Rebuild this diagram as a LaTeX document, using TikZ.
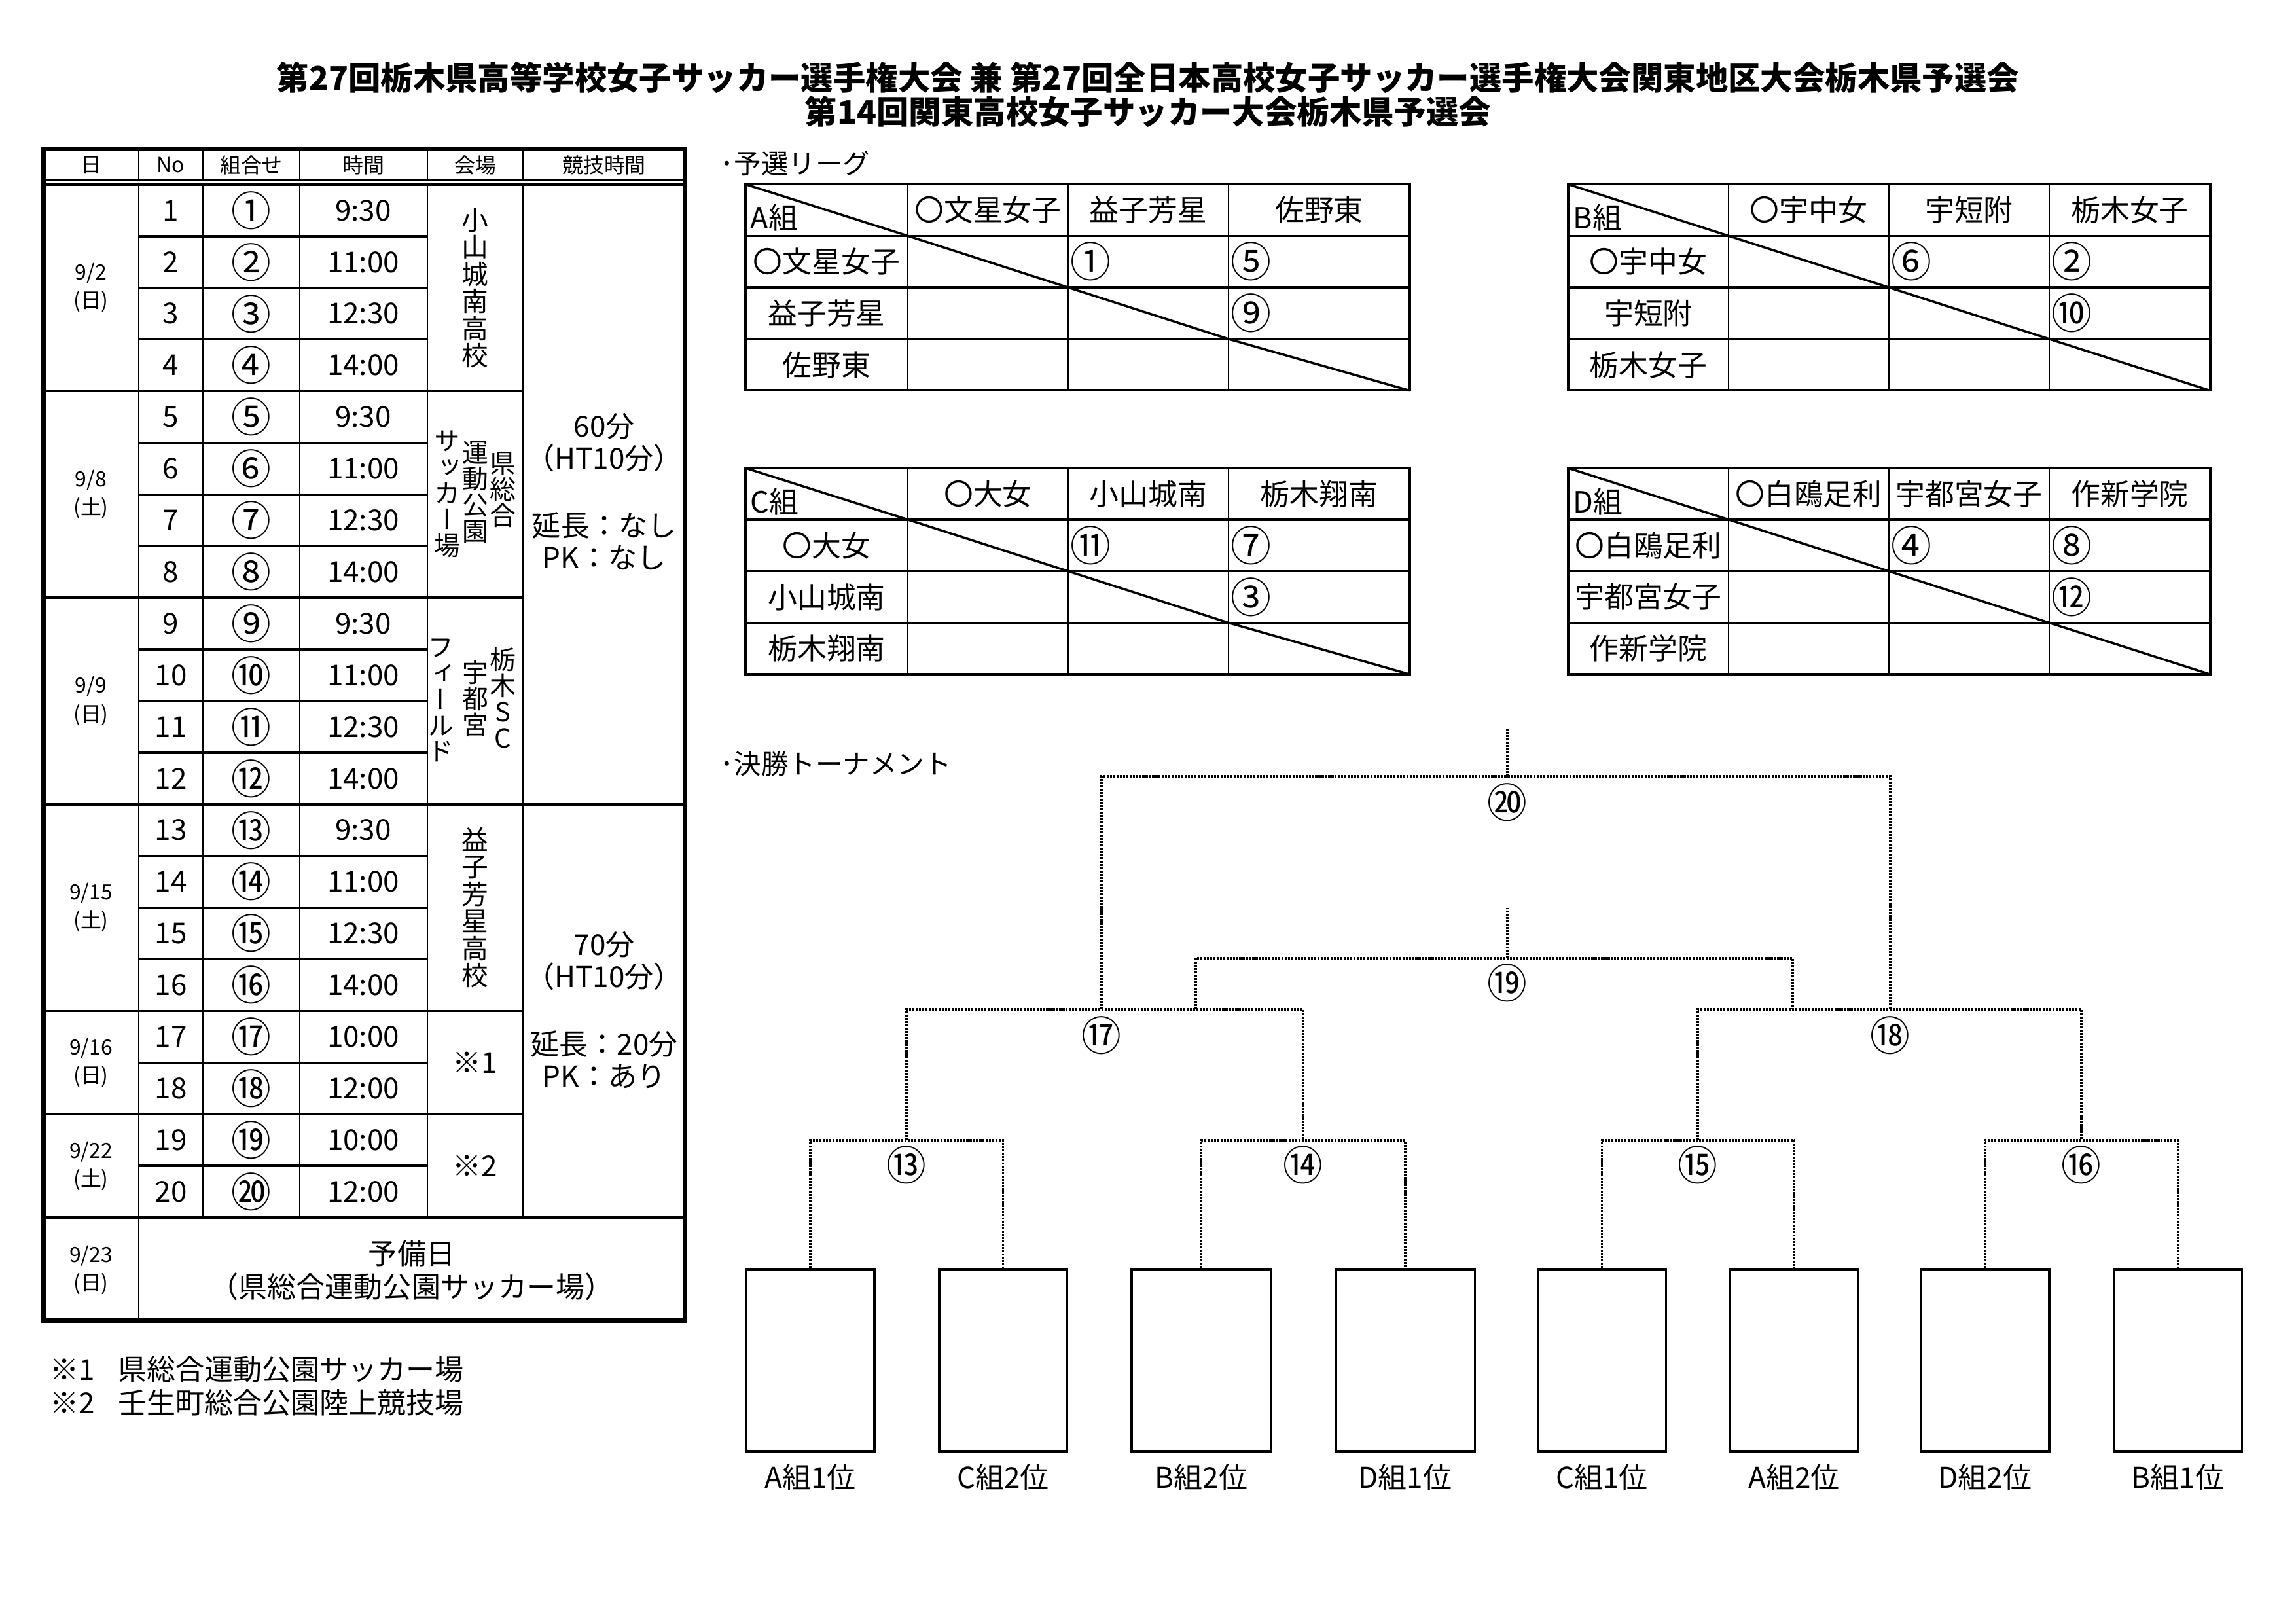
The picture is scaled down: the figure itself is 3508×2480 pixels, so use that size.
\documentclass[tikz,border=0pt]{standalone}
\usepackage{graphicx}
\usepackage{fontspec}
\setmainfont{Noto Sans CJK JP}
\newfontfamily\vjp{Noto Sans CJK JP}[RawFeature=+vert]
\newcommand{\cn}[1]{\scalebox{1.38}[1.42]{#1}}
\def\lgparse#1/#2/#3/#4/#5/#6\relax{\def\lgA{#1}\def\lgB{#2}\def\lgC{#3}\def\lgX{#4}\def\lgY{#5}\def\lgZ{#6}}
\newcommand{\lgtable}[9]{%
  \draw[hl] (#2,#7) rectangle (#6,{#7+4*78.8});
  \foreach \k in {1,2,3}{\draw[hl] (#2,{#7+\k*78.8}) -- (#6,{#7+\k*78.8});}
  \foreach \xx in {#3,#4,#5}{\draw[vl] (\xx,#7) -- (\xx,{#7+4*78.8});}
  \draw[hl] (#2,#7) -- (#3,{#7+78.8}) -- (#4,{#7+2*78.8}) -- (#5,{#7+3*78.8}) -- (#6,{#7+4*78.8});
  \lgparse#9\relax
  \node[lg, anchor=south west] (#1g) at ({#2+7},{#7+78.8-6}) {#8組};
  \node[lg] (#1h1) at ({(#3+#4)/2},{#7+39.4}) {\lgA};
  \node[lg] (#1h2) at ({(#4+#5)/2},{#7+39.4}) {\lgB};
  \node[lg] (#1h3) at ({(#5+#6)/2},{#7+39.4}) {\lgC};
  \node[lg] (#1r1) at ({(#2+#3)/2},{#7+1.5*78.8}) {\lgA};
  \node[lg] (#1r2) at ({(#2+#3)/2},{#7+2.5*78.8}) {\lgB};
  \node[lg] (#1r3) at ({(#2+#3)/2},{#7+3.5*78.8}) {\lgC};
  \node[lg, anchor=west] (#1c1) at ({#4+3},{#7+1.5*78.8}) {\cn{\lgX}};
  \node[lg, anchor=west] (#1c2) at ({#5+3},{#7+1.5*78.8}) {\cn{\lgY}};
  \node[lg, anchor=west] (#1c3) at ({#5+3},{#7+2.5*78.8}) {\cn{\lgZ}};
}
\begin{document}
\begin{tikzpicture}[x=0.24089pt,y=-0.24089pt,
  hl/.style={line width=0.84pt},
  vl/.style={line width=0.6pt},
  hd/.style={line width=0.6pt},
  ob/.style={line width=1.69pt},
  dl/.style={line width=0.8pt, dash pattern=on 0.75pt off 0.45pt, black},
  tx/.style={inner sep=0pt, font=\fontsize{10.6pt}{12.7pt}\selectfont},
  sm/.style={inner sep=0pt, align=center, font=\fontsize{7.7pt}{10.4pt}\selectfont},
  hdr/.style={inner sep=0pt, font=\fontsize{7.7pt}{9pt}\selectfont},
  lg/.style={inner sep=0pt, font=\fontsize{10.8pt}{13pt}\selectfont},
  vt/.style={inner sep=0pt, align=center, font=\vjp\fontsize{9.6pt}{9.6pt}\selectfont},
  vtone/.style={inner sep=0pt, align=center, font=\vjp\fontsize{9.8pt}{10pt}\selectfont},
  ttl/.style={inner sep=0pt, font=\bfseries\fontsize{11.9pt}{14pt}\selectfont},
  sec/.style={inner sep=0pt, anchor=west, font=\fontsize{10pt}{12pt}\selectfont},
  box/.style={draw, line width=0.96pt, inner sep=0pt, minimum height=67pt}]
\useasboundingbox (0,0) rectangle (3508,2480);

% ---------- title ----------
\node[ttl] (title1) at (1754,119) {第27回栃木県高等学校女子サッカー選手権大会 兼 第27回全日本高校女子サッカー選手権大会関東地区大会栃木県予選会};
\node[ttl] (title2) at (1754,171) {第14回関東高校女子サッカー大会栃木県予選会};

% ---------- schedule table ----------
\draw[ob] (66,227.4) rectangle (1046,2017);
\draw[hd] (69,275) -- (1043,275);
\draw[hl] (69,282) -- (1043,282);
\foreach \x in {310.4,457.8,653,799.5}{
  \draw[vl] (\x,227.4) -- (\x,275);
  \draw[vl] (\x,282) -- (\x,1860);
}
\draw[vl] (212,227.4) -- (212,275);
\draw[vl] (212,282) -- (212,2017);
\foreach \i in {1,2,3,5,6,7,9,10,11,13,14,15,17,19}{
  \draw[hl] (212,{282+78.9*\i}) -- (653,{282+78.9*\i});
}
\foreach \i in {4,8,16,18}{
  \draw[hl] (69,{282+78.9*\i}) -- (799.5,{282+78.9*\i});
}
\foreach \i in {12,20}{
  \draw[hl] (69,{282+78.9*\i}) -- (1043,{282+78.9*\i});
}

\node[hdr] (h1) at (139,252) {日};
\node[hdr] (h2) at (261,252) {No};
\node[hdr] (h3) at (384,252) {組合せ};
\node[hdr] (h4) at (555,252) {時間};
\node[hdr] (h5) at (726,252) {会場};
\node[hdr] (h6) at (923,252) {競技時間};

\foreach \i/\t/\c in {1/9:30/①,2/11:00/②,3/12:30/③,4/14:00/④,5/9:30/⑤,6/11:00/⑥,7/12:30/⑦,8/14:00/⑧,9/9:30/⑨,10/11:00/⑩,11/12:30/⑪,12/14:00/⑫,13/9:30/⑬,14/11:00/⑭,15/12:30/⑮,16/14:00/⑯,17/10:00/⑰,18/12:00/⑱,19/10:00/⑲,20/12:00/⑳}{
  \node[tx] (no\i) at (261,{282+78.9*(\i-0.5)}) {\i};
  \node[tx] (cb\i) at (384,{282+78.9*(\i-0.5)}) {\cn{\c}};
  \node[tx] (tm\i) at (555,{282+78.9*(\i-0.5)}) {\t};
}

\node[sm] (d1) at (139,439.8) {9/2\\(日)};
\node[sm] (d2) at (139,755.4) {9/8\\(土)};
\node[sm] (d3) at (139,1071) {9/9\\(日)};
\node[sm] (d4) at (139,1386.6) {9/15\\(土)};
\node[sm] (d5) at (139,1623.3) {9/16\\(日)};
\node[sm] (d6) at (139,1781.1) {9/22\\(土)};
\node[sm] (d7) at (139,1940) {9/23\\(日)};

\node[vtone] (v1) at (726,439.8) {小\\山\\城\\南\\高\\校};
\node[vt] (v2a) at (768,748) {県\\総\\合};
\node[vt] (v2b) at (726,752) {運\\動\\公\\園};
\node[vt] (v2c) at (683,755) {サ\\ッ\\カ\\ー\\場};
\node[vt] (v3a) at (768,1066) {栃\\木\\S\\C};
\node[vt] (v3b) at (726,1067) {宇\\都\\宮};
\node[vt] (v3c) at (673,1070) {フ\\ィ\\ー\\ル\\ド};
\node[vtone] (v4) at (726,1386.6) {益\\子\\芳\\星\\高\\校};
\node[tx] (v5) at (726,1623.3) {※1};
\node[tx] (v6) at (726,1781.1) {※2};

\node[tx] (k1) at (923,651) {60分};
\node[tx] (k2) at (923,700) {（HT10分）};
\node[tx] (k3) at (923,803) {延長：なし};
\node[tx] (k4) at (923,852) {PK：なし};
\node[tx] (k5) at (923,1443) {70分};
\node[tx] (k6) at (923,1492) {（HT10分）};
\node[tx] (k7) at (923,1595) {延長：20分};
\node[tx] (k8) at (923,1644) {PK：あり};

\node[tx] (y1) at (629,1915) {予備日};
\node[tx] (y2) at (629,1966) {（県総合運動公園サッカー場）};

\node[tx, anchor=west] (fn1) at (76,2092) {※1\hspace{0.8em}県総合運動公園サッカー場};
\node[tx, anchor=west] (fn2) at (76,2143) {※2\hspace{0.8em}壬生町総合公園陸上競技場};

% ---------- league tables ----------
\node[sec] (s1) at (1100,250) {･予選リーグ};
\lgtable{A}{1139}{1387}{1632}{1877}{2154}{281.5}{A}{〇文星女子/益子芳星/佐野東/①/⑤/⑨}
\lgtable{B}{2396}{2641}{2886}{3131}{3377}{281.5}{B}{〇宇中女/宇短附/栃木女子/⑥/②/⑩}
\lgtable{C}{1139}{1387}{1632}{1877}{2154}{715}{C}{〇大女/小山城南/栃木翔南/⑪/⑦/③}
\lgtable{D}{2396}{2641}{2886}{3131}{3377}{715}{D}{〇白鴎足利/宇都宮女子/作新学院/④/⑧/⑫}

% ---------- tournament ----------
\node[sec] (s2) at (1100,1167) {･決勝トーナメント};
\foreach \n/\x/\w/\lab in {1/1238/47.2/A組1位,2/1532.5/47.2/C組2位,3/1835.5/51.3/B組2位,4/2147/51.3/D組1位,5/2447.5/47.2/C組1位,6/2741/47.2/A組2位,7/3033/47.2/D組2位,8/3327.5/47.2/B組1位}{
  \node[box, minimum width=\w pt] (b\n) at (\x,2078) {};
  \node[tx] (bl\n) at (\x,2257) {\lab};
}
\coordinate (m13) at (1385,1742);
\coordinate (m14) at (1991,1742);
\coordinate (m15) at (2594,1742);
\coordinate (m16) at (3180,1742);
\coordinate (m17) at (1683,1542);
\coordinate (m18) at (2888,1542);
\coordinate (m20) at (2303,1186);
\coordinate (t20) at (2303,1112);
\coordinate (m19) at (2303,1464);
\coordinate (t19) at (2303,1387);
\coordinate (l19) at (1827,1542);
\coordinate (r19) at (2739,1542);

\draw[dl] (b1.north) |- (m13) -| (b2.north);
\draw[dl] (b3.north) |- (m14) -| (b4.north);
\draw[dl] (b5.north) |- (m15) -| (b6.north);
\draw[dl] (b7.north) |- (m16) -| (b8.north);
\draw[dl] (m13) |- (m17) -| (m14);
\draw[dl] (m15) |- (m18) -| (m16);
\draw[dl] (m17) |- (m20) -| (m18);
\draw[dl] (m20) -- (t20);
\draw[dl] (l19) |- (m19) -| (r19);
\draw[dl] (m19) -- (t19);

\node[tx] (n13) at (1385,1780) {\cn{⑬}};
\node[tx] (n14) at (1991,1780) {\cn{⑭}};
\node[tx] (n15) at (2594,1780) {\cn{⑮}};
\node[tx] (n16) at (3180,1780) {\cn{⑯}};
\node[tx] (n17) at (1683,1582) {\cn{⑰}};
\node[tx] (n18) at (2888,1582) {\cn{⑱}};
\node[tx] (n19) at (2303,1502) {\cn{⑲}};
\node[tx] (n20) at (2303,1226) {\cn{⑳}};
\end{tikzpicture}
\end{document}
